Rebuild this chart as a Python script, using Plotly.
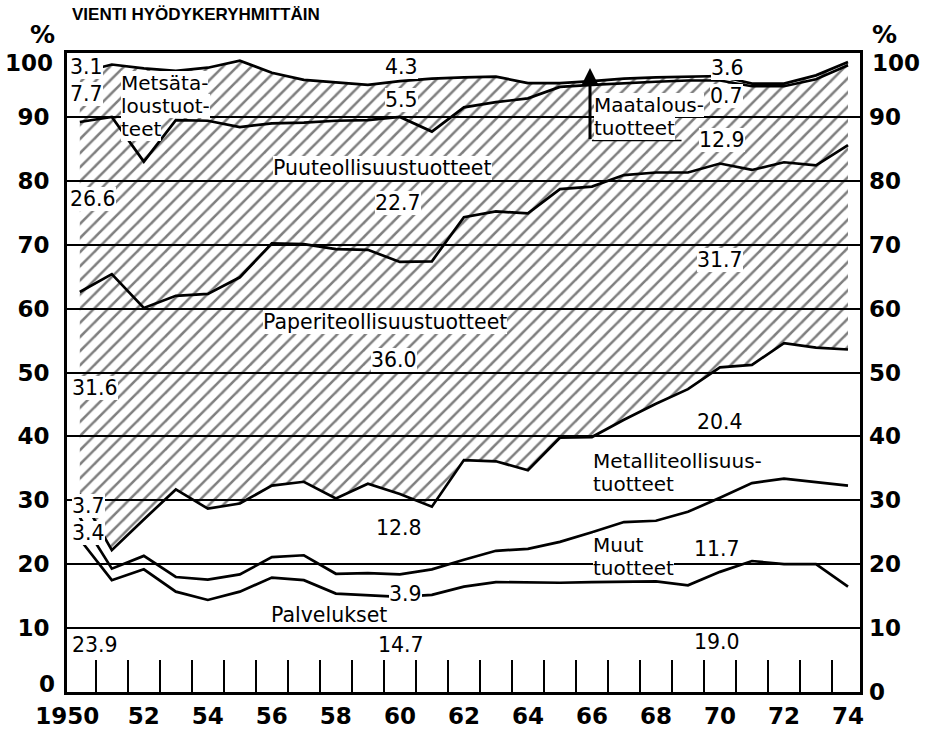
import plotly.graph_objects as go

# ---------------- data (cumulative upper boundaries, % of total exports) ----------------
years = list(range(1950, 1975))

palvelukset_top = [23.9, 17.5, 19.2, 15.7, 14.4, 15.7, 17.9, 17.5, 15.4, 15.2, 14.9, 15.2, 16.5,
                   17.2, 17.1, 17.1, 17.2, 17.3, 17.3, 16.7, 18.8, 20.5, 20.0, 20.0, 16.5]
muut_top = [27.3, 19.3, 21.3, 18.0, 17.6, 18.4, 21.1, 21.4, 18.5, 18.6, 18.4, 19.2, 20.7,
            22.1, 22.4, 23.5, 25.0, 26.6, 26.8, 28.2, 30.4, 32.7, 33.4, 32.9, 32.3]
metalli_top = [31.0, 22.2, 27.0, 31.7, 28.7, 29.5, 32.3, 32.9, 30.3, 32.6, 31.0, 29.0, 36.3,
               36.1, 34.7, 39.8, 39.9, 42.6, 45.1, 47.4, 50.8, 51.2, 54.6, 53.9, 53.6]
paperi_top = [62.6, 65.4, 60.1, 62.0, 62.3, 64.9, 70.2, 70.1, 69.3, 69.2, 67.3, 67.4, 74.3,
              75.2, 74.9, 78.7, 79.1, 80.9, 81.3, 81.3, 82.7, 81.7, 82.9, 82.4, 85.6]
puu_top = [89.2, 90.0, 83.0, 89.5, 89.4, 88.4, 89.0, 89.1, 89.4, 89.5, 90.0, 87.7, 91.5,
           92.3, 92.9, 94.7, 95.0, 95.3, 95.5, 95.7, 95.7, 94.8, 94.8, 95.9, 98.1]
metsa_top = [96.9, 98.2, 97.6, 97.2, 97.7, 98.8, 96.9, 95.8, 95.4, 95.0, 95.6, 96.0, 96.2,
             96.3, 95.3, 95.3, 95.6, 96.0, 96.2, 96.3, 96.4, 95.2, 95.2, 96.5, 98.6]

year_label_vals = [1949.61, 1952, 1954, 1956, 1958, 1960, 1962, 1964, 1966, 1968, 1970, 1972, 1974]
year_label_text = ["1950", "52", "54", "56", "58", "60", "62", "64", "66", "68", "70", "72", "74"]
year_boundaries = [y + 0.5 for y in years[:-1]]
pct_ticks = list(range(0, 101, 10))
# "100" (both sides) and the left "0" are set as separate texts, slightly offset as in the print
pct_text_left = [""] + [str(v) for v in pct_ticks[1:-1]] + [""]
pct_text_right = [str(v) for v in pct_ticks[:-1]] + [""]

# ---------------- figure ----------------
LINE = dict(color="black", width=2.7)
fig = go.Figure()

fig.add_trace(go.Scatter(x=years, y=palvelukset_top, mode="lines", line=LINE, hoverinfo="skip"))
fig.add_trace(go.Scatter(x=years, y=muut_top, mode="lines", line=LINE, hoverinfo="skip"))
fig.add_trace(go.Scatter(x=years, y=metalli_top, mode="lines", line=LINE, hoverinfo="skip"))
fig.add_trace(go.Scatter(
    x=years, y=metsa_top, mode="lines", line=LINE, hoverinfo="skip",
    fill="tonexty", fillcolor="rgba(0,0,0,0)",
    fillpattern=dict(shape="/", fgcolor="black", bgcolor="rgba(0,0,0,0)",
                     size=10, solidity=0.25)))
fig.add_trace(go.Scatter(x=years, y=paperi_top, mode="lines", line=LINE, hoverinfo="skip"))
fig.add_trace(go.Scatter(x=years, y=puu_top, mode="lines", line=LINE, hoverinfo="skip"))
# carrier for the right-hand axis
fig.add_trace(go.Scatter(x=[years[0]], y=[0], yaxis="y2", mode="markers",
                         marker=dict(opacity=0), hoverinfo="skip"))

AXFONT = dict(family="DejaVu Sans", size=23, color="black", weight="bold")
LBL = dict(family="DejaVu Sans", size=20.5, color="black")
LBL2 = dict(family="DejaVu Sans", size=20, color="black")

fig.update_layout(
    width=929, height=729,
    margin=dict(l=67, r=69, t=53, b=37, autoexpand=False),
    plot_bgcolor="white", paper_bgcolor="white",
    showlegend=False,
    xaxis=dict(range=[1949.6, 1974.375], tickmode="array", tickvals=year_label_vals,
               ticktext=year_label_text, ticks="", showgrid=False, zeroline=False,
               showline=True, linecolor="black", linewidth=3, mirror=True,
               tickfont=AXFONT, ticklabelstandoff=1, automargin=False,
               minor=dict(tickmode="array", tickvals=year_boundaries, ticks="inside",
                          ticklen=32, tickwidth=2, tickcolor="black", showgrid=False)),
    yaxis=dict(range=[0, 100], tickmode="array", tickvals=pct_ticks, ticktext=pct_text_left,
               ticks="", showgrid=True, gridcolor="black", gridwidth=1.5, zeroline=False,
               showline=True, linecolor="black", linewidth=3, mirror=True,
               tickfont=AXFONT, ticklabelstandoff=10, automargin=False),
    yaxis2=dict(range=[0, 100], overlaying="y", side="right", tickmode="array",
                tickvals=pct_ticks, ticktext=pct_text_right, ticks="", showgrid=False,
                zeroline=False, showline=False, tickfont=AXFONT, ticklabelstandoff=8,
                automargin=False),
)

# title
fig.add_annotation(x=0.004, y=1.0595, xref="paper", yref="paper",
                   text="VIENTI HYÖDYKERYHMITTÄIN", showarrow=False,
                   xanchor="left", yanchor="middle",
                   font=dict(family="Liberation Sans", size=17, color="black", weight="bold"))

# "100" labels on both sides, the left "0", and the % signs
fig.add_annotation(x=-0.0151, y=0.984, xref="paper", yref="paper", text="100",
                   showarrow=False, xanchor="right", yanchor="middle", font=AXFONT)
fig.add_annotation(x=1.0126, y=0.984, xref="paper", yref="paper", text="100",
                   showarrow=False, xanchor="left", yanchor="middle", font=AXFONT)
fig.add_annotation(x=-0.0151, y=0.0125, xref="paper", yref="paper", text="0",
                   showarrow=False, xanchor="right", yanchor="middle", font=AXFONT,
                   borderpad=0, borderwidth=0)
for xp in (-0.0303, 1.0303):
    fig.add_annotation(x=xp, y=1.0297, xref="paper", yref="paper", text="%",
                       showarrow=False, xanchor="center", yanchor="middle",
                       font=dict(family="DejaVu Sans", size=25, color="black", weight="bold"))

# ---------------- text labels ----------------
labels = [
    ("3.1", 1949.7, 97.8, "left", LBL), ("7.7", 1949.7, 93.6, "left", LBL),
    ("Metsäta-", 1951.3, 95.3, "left", LBL2), ("loustuot-", 1951.3, 91.7, "left", LBL2),
    ("teet", 1951.3, 88.1, "left", LBL2),
    ("4.3", 1960.06, 97.8, "center", LBL), ("5.5", 1960.06, 92.6, "center", LBL),
    ("3.6", 1970.25, 97.65, "center", LBL), ("0.7", 1970.2, 93.3, "center", LBL),
    ("Maatalous-", 1966.05, 91.9, "left", LBL2), ("tuotteet", 1966.05, 88.3, "left", LBL2),
    ("12.9", 1970.05, 86.4, "center", LBL),
    ("Puuteollisuustuotteet", 1959.47, 82.0, "center", LBL),
    ("26.6", 1949.7, 77.15, "left", LBL), ("22.7", 1959.94, 76.5, "center", LBL),
    ("31.7", 1970.0, 67.6, "center", LBL),
    ("Paperiteollisuustuotteet", 1959.53, 57.9, "center", LBL),
    ("36.0", 1959.81, 52.0, "center", LBL),
    ("31.6", 1949.75, 47.6, "left", LBL), ("20.4", 1970.0, 42.25, "center", LBL),
    ("Metalliteollisuus-", 1966.03, 36.1, "left", LBL2), ("tuotteet", 1966.03, 32.5, "left", LBL2),
    ("3.7", 1949.75, 29.1, "left", LBL), ("3.4", 1949.75, 24.9, "left", LBL),
    ("12.8", 1959.97, 25.7, "center", LBL),
    ("Muut", 1966.03, 22.95, "left", LBL2), ("tuotteet", 1966.03, 19.35, "left", LBL2),
    ("11.7", 1969.9, 22.4, "center", LBL),
    ("3.9", 1960.16, 15.4, "center", LBL),
    ("Palvelukset", 1957.78, 12.05, "center", LBL),
    ("23.9", 1949.75, 7.35, "left", LBL), ("14.7", 1960.03, 7.35, "center", LBL),
    ("19.0", 1969.9, 7.8, "center", LBL),
]
for text, x, y, anchor, fnt in labels:
    fig.add_annotation(x=x, y=y, xref="x", yref="y", text=text, showarrow=False,
                       xanchor=anchor, yanchor="middle", font=fnt,
                       bgcolor="white", borderpad=0, borderwidth=0)

# arrow pointing to the agricultural products band, with underline of its label
fig.add_annotation(x=1965.94, y=97.65, ax=1965.94, ay=86.3, xref="x", yref="y",
                   axref="x", ayref="y", text="", showarrow=True, arrowhead=2,
                   arrowsize=1.2, arrowwidth=3, arrowcolor="black", standoff=0)
fig.add_shape(type="line", x0=1966.0, x1=1968.8, y0=86.3, y1=86.3, xref="x", yref="y",
              line=dict(color="black", width=1.5))

# the page body has a default 8px margin; remove it so the figure sits at the window origin
fig.write_html("out.html", config={"displayModeBar": False},
               post_script="document.body.style.margin='0px';document.body.style.padding='0px';")
